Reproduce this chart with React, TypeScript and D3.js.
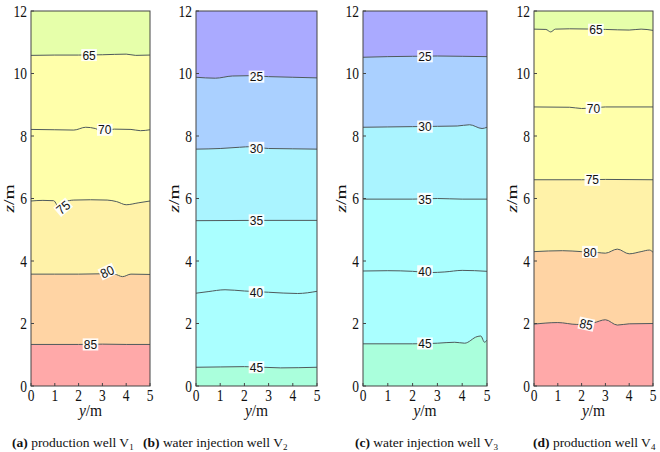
import React from "react";
import * as d3 from "d3";

type Pt = [number, number];

const X_TICKS = [0, 1, 2, 3, 4, 5];
const Y_TICKS = [0, 2, 4, 6, 8, 10, 12];

const WARM_COLORS = ["#e6ffaa", "#ffffaa", "#ffffaa", "#fff2a8", "#ffd4a4", "#ffa9a9"];
const COOL_COLORS = ["#aaaaff", "#aad0ff", "#aaf4ff", "#aaffff", "#aaffff", "#aaffdc"];

// Panel (a) production well V1
const aLevels = [65, 70, 75, 80, 85];
const aLine65: Pt[] = [[0, 10.58], [1, 10.59], [2, 10.59], [3, 10.6], [4, 10.62], [4.4, 10.58], [5, 10.59]];
const aLine70: Pt[] = [[0, 8.21], [1, 8.2], [1.8, 8.19], [2.3, 8.28], [2.7, 8.24], [3.0, 8.15], [3.5, 8.22], [4.2, 8.21], [4.6, 8.17], [5, 8.2]];
const aLine75: Pt[] = [[0, 5.92], [0.5, 5.94], [0.95, 5.93], [1.2, 5.68], [1.45, 5.9], [1.8, 5.95], [2.5, 5.96], [3.2, 5.95], [3.6, 5.9], [4.0, 5.8], [4.5, 5.86], [5, 5.92]];
const aLine80: Pt[] = [[0, 3.58], [1, 3.58], [2, 3.58], [2.9, 3.59], [3.5, 3.58], [3.85, 3.5], [4.2, 3.58], [5, 3.57]];
const aLine85: Pt[] = [[0, 1.33], [2, 1.33], [3, 1.34], [4, 1.33], [5, 1.33]];
const aLabels: [number, number, number][] = [[2.44, 10.59, 0], [3.1, 8.2, 0], [1.35, 5.72, -40], [3.2, 3.66, -25], [2.5, 1.33, 0]];

// Panel (b) water injection well V2
const bLevels = [25, 30, 35, 40, 45];
const bLine25: Pt[] = [[0, 9.88], [0.8, 9.85], [1.5, 9.92], [2.2, 9.93], [3, 9.9], [4, 9.88], [5, 9.86]];
const bLine30: Pt[] = [[0, 7.58], [1, 7.6], [1.8, 7.64], [2.3, 7.66], [3, 7.6], [4, 7.59], [5, 7.58]];
const bLine35: Pt[] = [[0, 5.29], [2.5, 5.3], [5, 5.3]];
const bLine40: Pt[] = [[0, 2.97], [0.5, 3.02], [1.2, 3.08], [2, 3.04], [3, 3.0], [4.2, 2.96], [5, 3.03]];
const bLine45: Pt[] = [[0, 0.6], [1, 0.61], [2, 0.62], [3.5, 0.58], [5, 0.6]];
const bLabels: [number, number, number][] = [[2.5, 9.9, 0], [2.5, 7.62, 0], [2.5, 5.3, 0], [2.5, 3.0, 0], [2.5, 0.6, 0]];

// Panel (c) water injection well V3
const cLevels = [25, 30, 35, 40, 45];
const cLine25: Pt[] = [[0, 10.52], [1, 10.54], [2, 10.55], [3, 10.56], [4, 10.55], [5, 10.54]];
const cLine30: Pt[] = [[0, 8.28], [1, 8.29], [2, 8.3], [3, 8.31], [3.8, 8.32], [4.3, 8.36], [4.8, 8.24], [5, 8.28]];
const cLine35: Pt[] = [[0, 5.98], [2, 5.98], [3, 6.0], [4, 5.98], [5, 5.98]];
const cLine40: Pt[] = [[0, 3.68], [1, 3.69], [2, 3.67], [2.7, 3.63], [3.3, 3.65], [4, 3.7], [5, 3.67]];
const cLine45: Pt[] = [[0, 1.35], [2, 1.35], [3, 1.37], [3.7, 1.4], [4.1, 1.37], [4.6, 1.58], [4.75, 1.6], [4.9, 1.4], [5, 1.47]];
const cLabels: [number, number, number][] = [[2.5, 10.55, 0], [2.5, 8.3, 0], [2.5, 5.99, 0], [2.5, 3.67, 0], [2.5, 1.36, 0]];

// Panel (d) production well V4
const dLevels = [65, 70, 75, 80, 85];
const dLine65: Pt[] = [[0, 11.42], [0.5, 11.41], [0.7, 11.33], [0.9, 11.42], [1.5, 11.43], [3, 11.41], [4, 11.39], [4.5, 11.42], [5, 11.38]];
const dLine70: Pt[] = [[0, 8.93], [1.5, 8.92], [2, 8.88], [2.5, 8.9], [3, 8.93], [5, 8.93]];
const dLine75: Pt[] = [[0, 6.6], [2, 6.6], [3, 6.61], [5, 6.6]];
const dLine80: Pt[] = [[0, 4.3], [1.2, 4.33], [2, 4.3], [2.7, 4.27], [3, 4.25], [3.5, 4.38], [4, 4.23], [4.5, 4.3], [4.85, 4.35], [5, 4.28]];
const dLine85: Pt[] = [[0, 1.98], [1, 2.03], [1.8, 1.97], [2.5, 2.02], [3, 2.12], [3.5, 1.95], [4, 1.99], [5, 2.0]];
const dLabels: [number, number, number][] = [[2.6, 11.4, 0], [2.5, 8.9, 0], [2.45, 6.6, 0], [2.35, 4.29, 0], [2.2, 1.98, 12]];

const CAPTION_TAGS = ["(a)", "(b)", "(c)", "(d)"];
const CAPTION_TEXTS = ["production well V", "water injection well V", "water injection well V", "production well V"];
const CAPTION_SUBS = ["1", "2", "3", "4"];

const PANELS = [
  { left: 31, right: 150, levels: aLevels, lines: [aLine65, aLine70, aLine75, aLine80, aLine85], labels: aLabels, colors: WARM_COLORS, capX: 12 },
  { left: 196, right: 317, levels: bLevels, lines: [bLine25, bLine30, bLine35, bLine40, bLine45], labels: bLabels, colors: COOL_COLORS, capX: 143 },
  { left: 363, right: 487, levels: cLevels, lines: [cLine25, cLine30, cLine35, cLine40, cLine45], labels: cLabels, colors: COOL_COLORS, capX: 355 },
  { left: 534, right: 653, levels: dLevels, lines: [dLine65, dLine70, dLine75, dLine80, dLine85], labels: dLabels, colors: WARM_COLORS, capX: 533 },
];

const TOP = 11;
const BOTTOM = 386;
const LINE_COLOR = "#4f5a5c";
const SERIF = "'Liberation Serif', 'Times New Roman', 'DejaVu Serif', serif";
const SANS = "'Liberation Sans', Arial, sans-serif";
const serifStyle = { fontFamily: SERIF };
const sansStyle = { fontFamily: SANS };
const STRETCH = 1.3;

function Panel({ p, idx }: { p: typeof PANELS[number]; idx: number }) {
  const x = d3.scaleLinear().domain([0, 5]).range([p.left, p.right]);
  const y = d3.scaleLinear().domain([0, 12]).range([BOTTOM, TOP]);
  const area = d3
    .area<Pt>()
    .x((d) => x(d[0]))
    .y0(y(0))
    .y1((d) => y(d[1]))
    .curve(d3.curveMonotoneX);
  const line = d3
    .line<Pt>()
    .x((d) => x(d[0]))
    .y((d) => y(d[1]))
    .curve(d3.curveMonotoneX);
  const clipId = `clip${idx}`;
  const cx = (p.left + p.right) / 2;
  return (
    <g>
      <defs>
        <clipPath id={clipId}>
          <rect x={p.left} y={TOP} width={p.right - p.left} height={BOTTOM - TOP} />
        </clipPath>
      </defs>
      <g clipPath={`url(#${clipId})`}>
        <rect x={p.left} y={TOP} width={p.right - p.left} height={BOTTOM - TOP} fill={p.colors[0]} />
        {p.lines.map((ln, i) => (
          <path key={"a" + i} d={area(ln) || ""} fill={p.colors[i + 1]} />
        ))}
        {p.lines.map((ln, i) => (
          <path key={"l" + i} d={line(ln) || ""} fill="none" stroke={LINE_COLOR} strokeWidth={1} />
        ))}
        {p.labels.map((lb, i) => {
          const txt = String(p.levels[i]);
          const w = txt.length * 6.8 + 2;
          return (
            <g key={"t" + i} transform={`translate(${x(lb[0])},${y(lb[1])}) rotate(${lb[2]}) scale(1,1.1)`}>
              <rect x={-w / 2} y={-5.5} width={w} height={11} fill="#ffffff" fillOpacity={0.92} />
              <text x={0} y={4.3} textAnchor="middle" style={sansStyle} fontSize={12} fill="#111">
                {txt}
              </text>
            </g>
          );
        })}
      </g>
      <rect x={p.left} y={TOP} width={p.right - p.left} height={BOTTOM - TOP} fill="none" stroke="#444" strokeWidth={1} />
      {X_TICKS.map((t) => (
        <g key={"xt" + t}>
          <line x1={x(t)} x2={x(t)} y1={BOTTOM} y2={BOTTOM - 3} stroke="#444" />
          <text
            transform={`translate(${x(t)},400.5) scale(1,${STRETCH})`}
            textAnchor="middle"
            style={serifStyle}
            fontSize={13.5}
            fill="#111"
          >
            {t}
          </text>
        </g>
      ))}
      {Y_TICKS.map((t) => (
        <g key={"yt" + t}>
          <line x1={p.left} x2={p.left + 3} y1={y(t)} y2={y(t)} stroke="#444" />
          <text
            transform={`translate(${p.left - 4},${y(t) + 5.5}) scale(1,${STRETCH})`}
            textAnchor="end"
            style={serifStyle}
            fontSize={13.5}
            fill="#111"
          >
            {t}
          </text>
        </g>
      ))}
      <text
        transform={`translate(${cx},416) scale(1,1.1)`}
        textAnchor="middle"
        style={serifStyle}
        fontSize={15.5}
        fill="#111"
      >
        <tspan fontStyle="italic">y</tspan>/m
      </text>
      <text
        transform={`translate(${p.left - 17},${(TOP + BOTTOM) / 2}) scale(1,${STRETCH}) rotate(-90)`}
        textAnchor="middle"
        style={serifStyle}
        fontSize={15}
        fill="#111"
      >
        <tspan fontStyle="italic">z</tspan>/m
      </text>
      <text x={p.capX} y={447} style={serifStyle} fontSize={13.5} fill="#111">
        <tspan fontWeight="bold">{CAPTION_TAGS[idx]}</tspan> {CAPTION_TEXTS[idx]}
        <tspan fontSize={9} dy={3}>{CAPTION_SUBS[idx]}</tspan>
      </text>
    </g>
  );
}

export default function App() {
  return (
    <svg width={660} height={452} style={{ position: "absolute", left: 0, top: 0, background: "#fff" }}>
      <rect x={0} y={0} width={660} height={452} fill="#fff" />
      {PANELS.map((p, i) => (
        <Panel key={i} p={p} idx={i} />
      ))}
    </svg>
  );
}
